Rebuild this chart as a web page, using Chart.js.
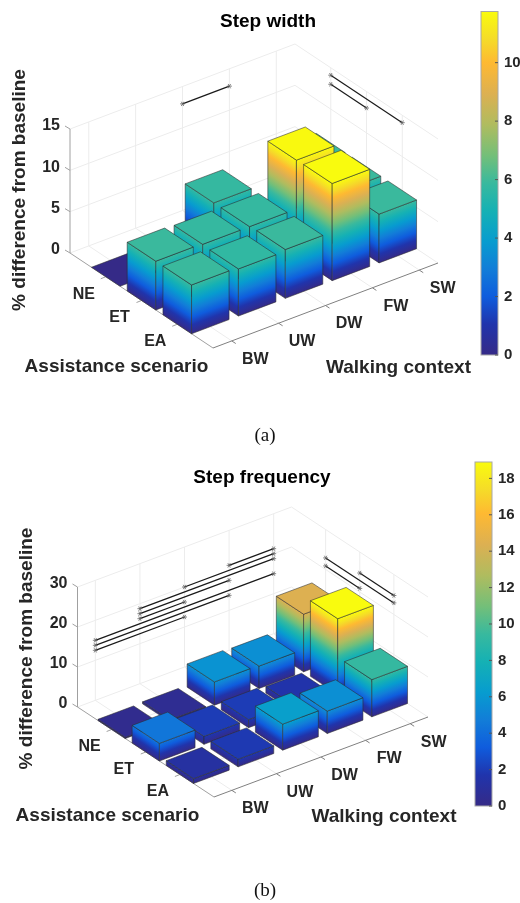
<!DOCTYPE html>
<html>
<head>
<meta charset="utf-8">
<style>
    body { margin: 0; background: #fff; }
    #page { position: relative; width: 520px; height: 903px; overflow: hidden; }
    canvas { position: absolute; left: 0; }
    .caption { position: absolute; left: 0; width: 530px; text-align: center; font: 19px "Liberation Serif", serif; color: #111; }
</style>
<script src="https://cdn.jsdelivr.net/npm/chart.js@4"></script>
</head>
<body>
<div id="page">
    <canvas id="widthChart" width="520" height="450" style="top:0"></canvas>
    <canvas id="freqChart" width="520" height="453" style="top:450px"></canvas>
    <div class="caption" style="top:424px">(a)</div>
    <div class="caption" style="top:879px">(b)</div>
</div>
<script>
// categories
const walkingContexts = ['BW', 'UW', 'DW', 'FW', 'SW'];
const assistanceScenarios = ['NE', 'ET', 'EA'];

// step width, % difference from baseline (one array per scenario)
const widthNE = [0, 0, 5.8, 0, 5.9];
const widthET = [5.9, 5.8, 5.8, 11.7, 5.9];
const widthEA = [5.9, 5.7, 5.9, 11.75, 5.9];

// step frequency
const freqNE = [0.3, 0.5, 5.8, 5.6, 14.4];
const freqET = [4.4, 2.0, 2.0, 1.6, 18.9];
const freqEA = [1.2, 1.9, 6.5, 5.6, 9.3];

// ticks
const widthZTicks = [0, 5, 10, 15];
const freqZTicks = [0, 10, 20, 30];
const widthColorTicks = [0, 2, 4, 6, 8, 10];
const freqColorTicks = [0, 2, 4, 6, 8, 10, 12, 14, 16, 18];

// significance lines: [context, scenario, context, scenario, height]
const widthSigLines = [
    [3, 0, 4, 0, 12.9],
    [5.4, 1, 5.4, 2, 13],
    [5.4, 1, 5.4, 3, 14.1]
];
const freqSigLines = [
    [1, 0, 3, 0, 12.5],
    [1, 0, 4, 0, 13.75],
    [1, 0, 5, 0, 15],
    [2, 0, 3, 0, 16.25],
    [2, 0, 4, 0, 17.5],
    [2, 0, 5, 0, 18.75],
    [3, 0, 5, 0, 20],
    [4, 0, 5, 0, 21.25],
    [5.4, 1, 5.4, 2, 20.9],
    [5.4, 1, 5.4, 3, 22.9],
    [5.4, 2, 5.4, 3, 24.75]
];

// parula colormap stops
const colormapStops = [0, 0.09, 0.17, 0.25, 0.33, 0.42, 0.5, 0.58, 0.67, 0.76, 0.85, 0.92, 1];
const colormapColors = [
    [53, 42, 135], [32, 52, 172], [15, 92, 221], [18, 125, 216], [7, 156, 207], [21, 177, 180],
    [56, 185, 158], [115, 191, 121], [175, 188, 95], [220, 176, 82], [254, 185, 50], [245, 220, 40], [249, 251, 14]
];

function parula(t) {
    t = Math.max(0, Math.min(1, t));
    let i = 0;
    while (i < colormapStops.length - 2 && t > colormapStops[i + 1]) i++;
    const f = (t - colormapStops[i]) / (colormapStops[i + 1] - colormapStops[i]);
    const c = colormapColors[i].map((v, k) => Math.round(v + (colormapColors[i + 1][k] - v) * f));
    return 'rgb(' + c.join(',') + ')';
}

const sansFont = '"Liberation Sans", Arial, sans-serif';
const barHalf = 0.4;

const bars3d = {
    id: 'bars3d',
    afterDraw(chart) {
        const { ctx, scales } = chart;
        const o = chart.options.plugins.bars3d;
        const frac = (scale, v) => scale.getDecimalForPixel(scale.getPixelForValue(v));
        // project a data position on to the page, the walls run along ctxVec / scVec
        const project = (cx, sc, z) => {
            const fx = frac(scales.x, cx);
            const fy = frac(scales.y, sc) - 1;
            return [
                o.front[0] + fx * o.ctxVec[0] + fy * o.scVec[0],
                o.front[1] + fx * o.ctxVec[1] + fy * o.scVec[1] - frac(scales.z, z) * o.zLen
            ];
        };
        const line = (a, b, color, width) => {
            ctx.beginPath();
            ctx.moveTo(a[0], a[1]);
            ctx.lineTo(b[0], b[1]);
            ctx.strokeStyle = color;
            ctx.lineWidth = width;
            ctx.stroke();
        };
        const label = (text, x, y, font, color, align) => {
            ctx.font = font;
            ctx.fillStyle = color;
            ctx.textAlign = align || 'center';
            ctx.textBaseline = 'middle';
            ctx.fillText(text, x, y);
        };

        const xMin = scales.x.min, xMax = scales.x.max, yMin = scales.y.min, yMax = scales.y.max;
        const zMax = scales.z.max;
        const gridColor = '#ececec';
        ctx.save();

        //grid
        o.zTicks.forEach(z => {
            line(project(xMin, yMin, z), project(xMax, yMin, z), gridColor, 1);
            line(project(xMax, yMin, z), project(xMax, yMax, z), gridColor, 1);
        });
        walkingContexts.forEach((c, i) => {
            line(project(i + 1, yMin, 0), project(i + 1, yMin, zMax), gridColor, 1);
            line(project(i + 1, yMin, 0), project(i + 1, yMax, 0), gridColor, 1);
        });
        assistanceScenarios.forEach((c, i) => {
            line(project(xMax, i + 1, 0), project(xMax, i + 1, zMax), gridColor, 1);
            line(project(xMin, i + 1, 0), project(xMax, i + 1, 0), gridColor, 1);
        });

        //axes
        line(project(xMin, yMin, 0), project(xMin, yMin, zMax), '#a0a0a0', 1);
        line(project(xMin, yMin, 0), project(xMin, yMax, 0), '#a0a0a0', 1);
        line(project(xMin, yMax, 0), project(xMax, yMax, 0), '#808080', 1);
        o.zTicks.forEach(z => {
            const p = project(xMin, yMin, z);
            line(p, [p[0] - 5, p[1] - 3], '#a0a0a0', 1);
            label(String(z), p[0] - 10, p[1] - 3, 'bold 16px ' + sansFont, '#262626', 'right');
        });
        walkingContexts.forEach((c, i) => {
            const p = project(i + 1, yMax, 0);
            line(p, [p[0] + 4, p[1] + 2.6], '#808080', 1);
            label(c, p[0] + 23.5, p[1] + 18.5, 'bold 16px ' + sansFont, '#262626');
        });
        assistanceScenarios.forEach((c, i) => {
            const p = project(xMin, i + 1, 0);
            line(p, [p[0] - 5, p[1] + 2], '#a0a0a0', 1);
            label(c, p[0] - 22, p[1] + 17.5, 'bold 16px ' + sansFont, '#262626');
        });

        //bars, far ones first
        const cMax = scales.c.max;
        const faceGradient = (base, edge, v, h) => {
            // colour follows height, so the bands run parallel to the bottom edge of the face
            const len = Math.hypot(edge[0], edge[1]);
            const n = [-edge[1] / len, edge[0] / len];
            const d = n[1] * (-h);
            const g = ctx.createLinearGradient(base[0], base[1], base[0] + n[0] * d, base[1] + n[1] * d);
            const vt = v / cMax;
            colormapStops.forEach(s => {
                if (s < vt) g.addColorStop(s / vt, parula(s));
            });
            g.addColorStop(1, parula(vt));
            return g;
        };
        const face = (pts, fill) => {
            ctx.beginPath();
            pts.forEach((p, i) => i ? ctx.lineTo(p[0], p[1]) : ctx.moveTo(p[0], p[1]));
            ctx.closePath();
            ctx.fillStyle = fill;
            ctx.fill();
            ctx.strokeStyle = 'rgba(45,45,45,0.8)';
            ctx.lineWidth = 0.7;
            ctx.stroke();
        };
        const points = chart.data.datasets[0].data.slice().sort((a, b) => (a.y - b.y) || (b.x - a.x));
        points.forEach(d => {
            const x0 = d.x - barHalf, x1 = d.x + barHalf, y0 = d.y - barHalf, y1 = d.y + barHalf;
            const left = project(x0, y0, 0), front = project(x0, y1, 0), right = project(x1, y1, 0);
            const topLeft = project(x0, y0, d.v), topFront = project(x0, y1, d.v), topRight = project(x1, y1, d.v), topBack = project(x1, y0, d.v);
            const h = front[1] - topFront[1];
            if (h > 0) {
                face([left, front, topFront, topLeft], faceGradient(front, [left[0] - front[0], left[1] - front[1]], d.v, h));
                face([front, right, topRight, topFront], faceGradient(front, [right[0] - front[0], right[1] - front[1]], d.v, h));
            }
            face([topLeft, topFront, topRight, topBack], parula(d.v / cMax));
        });

        //significance lines
        o.sigLines.forEach(s => {
            const a = project(s[0], s[1], s[4]), b = project(s[2], s[3], s[4]);
            line(a, b, '#1a1a1a', 1.2);
            [a, b].forEach(p => {
                for (let k = 0; k < 3; k++) {
                    const t = k * Math.PI / 3;
                    line([p[0] - 2.5 * Math.cos(t), p[1] - 2.5 * Math.sin(t)], [p[0] + 2.5 * Math.cos(t), p[1] + 2.5 * Math.sin(t)], '#666', 0.8);
                }
            });
        });

        //titles
        label(o.title, o.titlePos[0], o.titlePos[1], 'bold 19px ' + sansFont, '#000');
        label('Assistance scenario', o.scenarioPos[0], o.scenarioPos[1], 'bold 19px ' + sansFont, '#262626');
        label('Walking context', o.contextPos[0], o.contextPos[1], 'bold 19px ' + sansFont, '#262626');
        ctx.translate(o.zTitlePos[0], o.zTitlePos[1]);
        ctx.rotate(-Math.PI / 2);
        label('% difference from baseline', 0, 0, 'bold 19px ' + sansFont, '#262626');
        ctx.setTransform(1, 0, 0, 1, 0, 0);

        //colorbar, the chart area is the bar itself
        const area = chart.chartArea;
        const bar = ctx.createLinearGradient(0, scales.c.getPixelForValue(0), 0, scales.c.getPixelForValue(cMax));
        colormapStops.forEach(s => bar.addColorStop(s, parula(s)));
        ctx.fillStyle = bar;
        ctx.fillRect(area.left, area.top, area.right - area.left, area.bottom - area.top);
        ctx.strokeStyle = '#a8a8a8';
        ctx.lineWidth = 1;
        ctx.strokeRect(area.left, area.top, area.right - area.left, area.bottom - area.top);
        scales.c.ticks.forEach(t => {
            const py = scales.c.getPixelForValue(t.value);
            line([area.right - 3, py], [area.right, py], '#555', 1);
        });
        ctx.restore();
    }
};

function cells(ne, et, ea) {
    const out = [];
    [ne, et, ea].forEach((row, s) => row.forEach((v, c) => out.push({ x: c + 1, y: s + 1, v: v })));
    return out;
}

function barChart(chartID, rows, zMax, colorMax, colorTicks, pad, barWidth, plot) {
    return new Chart(chartID, {
        type: 'scatter',
        data: { datasets: [{ data: cells(rows[0], rows[1], rows[2]), pointRadius: 0, pointHoverRadius: 0, borderWidth: 0, yAxisID: 'y', xAxisID: 'x' }] },
        options: {
            responsive: false,
            animation: false,
            events: [],
            layout: { padding: pad, autoPadding: false },
            plugins: { legend: { display: false }, tooltip: { enabled: false }, bars3d: plot },
            scales: {
                x: { type: 'linear', min: 0.6, max: 5.4, display: false },
                y: { type: 'linear', min: 0, max: 4, display: false },
                z: { type: 'linear', axis: 'y', min: 0, max: zMax, display: false },
                c: {
                    type: 'linear',
                    axis: 'y',
                    position: 'right',
                    min: 0,
                    max: colorMax,
                    grid: { display: false, drawTicks: false },
                    border: { display: false },
                    afterBuildTicks: s => { s.ticks = colorTicks.map(v => ({ value: v })); },
                    afterFit: s => { s.width = barWidth; s.paddingTop = 0; s.paddingBottom = 0; },
                    ticks: { padding: 6, color: '#262626', font: { family: sansFont, size: 15, weight: 'bold' } }
                }
            }
        },
        plugins: [bars3d]
    });
}

barChart('widthChart', [widthNE, widthET, widthEA], 15, 11.75, widthColorTicks,
    { left: 481, top: 11.5, bottom: 95, right: 0 }, 22, {
        front: [213, 348], ctxVec: [225, -85], scVec: [143, 95], zLen: 124,
        zTicks: widthZTicks, sigLines: widthSigLines,
        title: 'Step width', titlePos: [268, 22],
        scenarioPos: [116.5, 367], contextPos: [398.5, 368], zTitlePos: [20, 190]
    });

barChart('freqChart', [freqNE, freqET, freqEA], 30, 18.9, freqColorTicks,
    { left: 475, top: 12, bottom: 97, right: 0 }, 28, {
        front: [214, 347], ctxVec: [214, -80], scVec: [136.5, 90], zLen: 120,
        zTicks: freqZTicks, sigLines: freqSigLines,
        title: 'Step frequency', titlePos: [262, 28],
        scenarioPos: [107.5, 366], contextPos: [384, 367], zTitlePos: [27, 198.5]
    });
</script>
</body>
</html>
